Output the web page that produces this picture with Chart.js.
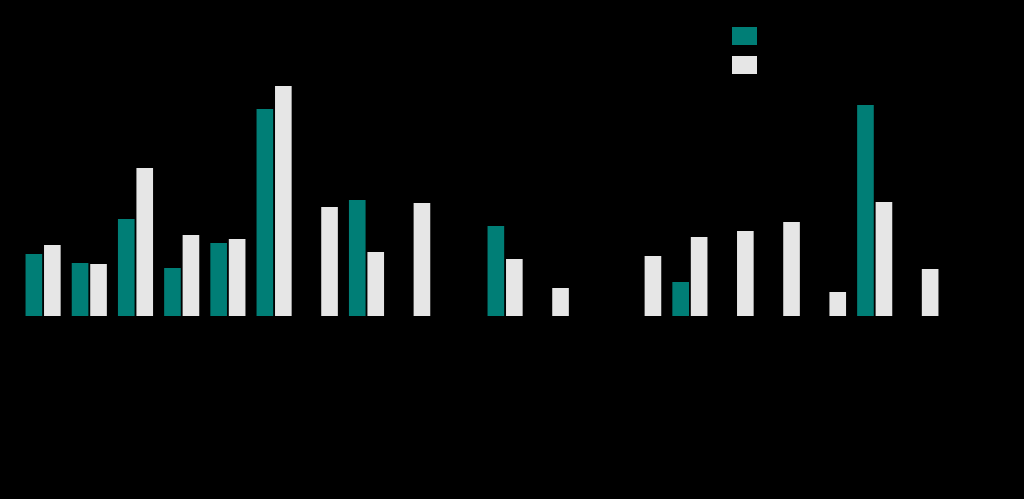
<!DOCTYPE html>
<html>
<head>
<meta charset="utf-8">
<script src="https://cdn.jsdelivr.net/npm/chart.js@4"></script>
<style>
  html, body { margin:0; padding:0; background:#000; }
  #wrap { position:relative; width:1024px; height:499px; background:#000; }
  #c { position:absolute; left:0; top:0; }
  #legend { position:absolute; left:732px; top:27px; font-family:"Liberation Sans", Arial, sans-serif; font-size:13px; color:#000; }
  .item { display:flex; align-items:center; height:18px; margin-bottom:11px; }
  .box { width:25px; height:18px; margin-right:8px; }
</style>
</head>
<body>
<div id="wrap">
  <canvas id="c" width="1024" height="499"></canvas>
  <div id="legend"></div>
</div>
<script>
const categories = ["1","2","3","4","5","6","7","8","9","10","11","12","13","14","15","16","17","18","19","20"];
const seriesNames = ["Series A", "Series B"];
const seriesA = [6.2, 5.3, 9.7, 4.8, 7.3, 20.7, null, 11.6, null, null, 9.0, null, null, null, 3.4, null, null, null, 21.1, null];
const seriesB = [7.1, 5.2, 14.8, 8.1, 7.7, 23.0, 10.9, 6.4, 11.3, null, 5.7, 2.8, null, 6.0, 7.9, 8.5, 9.4, 2.4, 11.4, 4.7];
const colors = ["#007e76", "#e6e6e6"];

const chart = new Chart(document.getElementById('c'), {
  type: 'bar',
  data: {
    labels: categories,
    datasets: [
      { label: seriesNames[0], data: seriesA, backgroundColor: colors[0], borderWidth: 0 },
      { label: seriesNames[1], data: seriesB, backgroundColor: colors[1], borderWidth: 0 }
    ]
  },
  options: {
    responsive: false,
    animation: false,
    layout: { padding: { left: 20, right: 80, top: 66, bottom: 183 } },
    plugins: { legend: { display: false }, tooltip: { enabled: false } },
    scales: {
      x: { display: false, ticks: { color: '#000' }, grid: { display: false } },
      y: { display: false, min: 0, max: 25, ticks: { color: '#000' }, grid: { display: false } }
    }
  }
});

const lg = document.getElementById('legend');
chart.data.datasets.forEach(ds => {
  const it = document.createElement('div'); it.className = 'item';
  const b = document.createElement('div'); b.className = 'box'; b.style.background = ds.backgroundColor;
  const t = document.createElement('span'); t.textContent = ds.label;
  it.appendChild(b); it.appendChild(t); lg.appendChild(it);
});
</script>
</body>
</html>
